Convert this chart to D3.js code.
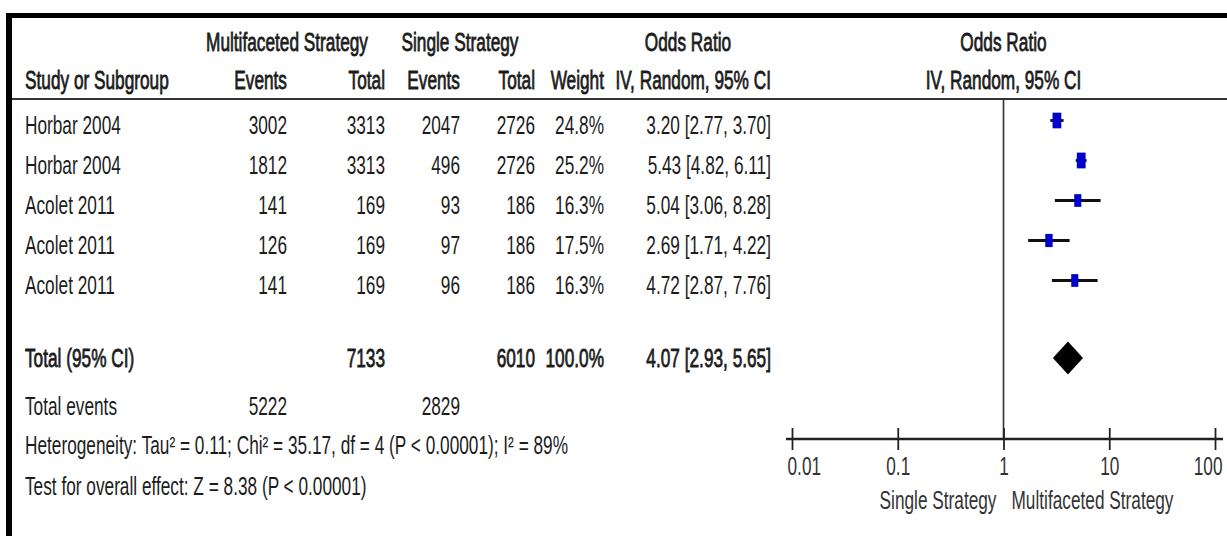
<!DOCTYPE html>
<html>
<head>
<meta charset="utf-8">
<script src="https://cdn.jsdelivr.net/npm/d3@7"></script>
<style>
  html, body { margin: 0; padding: 0; background: #fff; }
  svg { display: block; }
</style>
</head>
<body>
<svg id="chart" width="1227" height="536"></svg>
<script>
// ---------- data ----------
const studies = ["Horbar 2004", "Horbar 2004", "Acolet 2011", "Acolet 2011", "Acolet 2011"];
const multiEvents = [3002, 1812, 141, 126, 141];
const multiTotal = [3313, 3313, 169, 169, 169];
const singleEvents = [2047, 496, 93, 97, 96];
const singleTotal = [2726, 2726, 186, 186, 186];
const weights = [24.8, 25.2, 16.3, 17.5, 16.3];
const orValues = [3.20, 5.43, 5.04, 2.69, 4.72];
const ciLower = [2.77, 4.82, 3.06, 1.71, 2.87];
const ciUpper = [3.70, 6.11, 8.28, 4.22, 7.76];

const totalMultiN = 7133, totalSingleN = 6010, totalWeight = 100.0;
const totalOR = 4.07, totalLower = 2.93, totalUpper = 5.65;
const totalMultiEvents = 5222, totalSingleEvents = 2829;
const heterogeneityText = "Heterogeneity: Tau\u00B2 = 0.11; Chi\u00B2 = 35.17, df = 4 (P < 0.00001); I\u00B2 = 89%";
const overallText = "Test for overall effect: Z = 8.38 (P < 0.00001)";

const axisTicks = [0.01, 0.1, 1, 10, 100];
const axisTickLabels = ["0.01", "0.1", "1", "10", "100"];
const favoursLeft = "Single Strategy";
const favoursRight = "Multifaceted Strategy";

// ---------- layout ----------
const sx = 0.69;            // horizontal condensation of the text
const FS = 25;
const FONT = "'Liberation Sans', Arial, sans-serif";
const INK = "#1c1c1c";
const col = { study: 25, mEv: 287, mTot: 385, sEv: 460, sTot: 535, w: 604, or: 771 };

const svg = d3.select("#chart");

function addText(x, y, s, anchor = "start", bold = false, parent = svg) {
  return parent.append("text")
    .attr("transform", `translate(${x},${y}) scale(${sx},1)`)
    .attr("text-anchor", anchor)
    .attr("font-family", FONT)
    .attr("font-size", FS)
    .attr("fill", INK)
    .attr("stroke", bold ? INK : "none")
    .attr("stroke-width", bold ? 0.8 : 0)
    .text(s);
}

const x = d3.scaleLog().domain([0.01, 100]).range([792, 1215]);
const rowY = d3.scaleLinear().domain([0, studies.length - 1]).range([120.5, 280.5]);
const textOff = 13.5;
const boxH = d3.scaleSqrt().domain([0, 25]).range([0, 15.7]);
const fmt2 = d3.format(".2f");
const fmtW = d3.format(".1f");

// frame
svg.append("rect").attr("x", 6).attr("y", 13).attr("width", 1221).attr("height", 5).attr("fill", "#000");
svg.append("rect").attr("x", 6).attr("y", 13).attr("width", 6).attr("height", 523).attr("fill", "#000");
svg.append("line").attr("x1", 12).attr("x2", 1227).attr("y1", 99).attr("y2", 99)
  .attr("stroke", "#333").attr("stroke-width", 2);

// header
const h1 = 50.5, h2 = 89;
addText(287, h1, "Multifaceted Strategy", "middle", true);
addText(460, h1, "Single Strategy", "middle", true);
addText(688, h1, "Odds Ratio", "middle", true);
addText(x(1), h1, "Odds Ratio", "middle", true);
addText(col.study, h2, "Study or Subgroup", "start", true);
addText(col.mEv, h2, "Events", "end", true);
addText(col.mTot, h2, "Total", "end", true);
addText(col.sEv, h2, "Events", "end", true);
addText(col.sTot, h2, "Total", "end", true);
addText(col.w, h2, "Weight", "end", true);
addText(col.or, h2, "IV, Random, 95% CI", "end", true);
addText(x(1), h2, "IV, Random, 95% CI", "middle", true);

// study rows
studies.forEach((s, i) => {
  const yb = rowY(i) + textOff;
  addText(col.study, yb, s);
  addText(col.mEv, yb, multiEvents[i], "end");
  addText(col.mTot, yb, multiTotal[i], "end");
  addText(col.sEv, yb, singleEvents[i], "end");
  addText(col.sTot, yb, singleTotal[i], "end");
  addText(col.w, yb, fmtW(weights[i]) + "%", "end");
  addText(col.or, yb, `${fmt2(orValues[i])} [${fmt2(ciLower[i])}, ${fmt2(ciUpper[i])}]`, "end");
});

// totals
const totY = 358;
addText(col.study, totY + 9, "Total (95% CI)", "start", true);
addText(col.mTot, totY + 9, totalMultiN, "end", true);
addText(col.sTot, totY + 9, totalSingleN, "end", true);
addText(col.w, totY + 9, fmtW(totalWeight) + "%", "end", true);
addText(col.or, totY + 9, `${fmt2(totalOR)} [${fmt2(totalLower)}, ${fmt2(totalUpper)}]`, "end", true);

addText(col.study, 415, "Total events");
addText(col.mEv, 415, totalMultiEvents, "end");
addText(col.sEv, 415, totalSingleEvents, "end");
addText(col.study, 454, heterogeneityText);
addText(col.study, 495, overallText);

// plot: reference line
const axisY = 439;
svg.append("line").attr("x1", x(1)).attr("x2", x(1)).attr("y1", 100).attr("y2", axisY)
  .attr("stroke", "#333").attr("stroke-width", 1.6);

// CIs and boxes
const plot = svg.append("g");
plot.selectAll("line.ci").data(orValues).join("line").attr("class", "ci")
  .attr("x1", (d, i) => x(ciLower[i])).attr("x2", (d, i) => x(ciUpper[i]))
  .attr("y1", (d, i) => rowY(i)).attr("y2", (d, i) => rowY(i))
  .attr("stroke", "#111").attr("stroke-width", 2.8);
plot.selectAll("rect.box").data(orValues).join("rect").attr("class", "box")
  .attr("x", (d, i) => x(d) - boxH(weights[i]) * 0.28)
  .attr("y", (d, i) => rowY(i) - boxH(weights[i]) / 2)
  .attr("width", (d, i) => boxH(weights[i]) * 0.56)
  .attr("height", (d, i) => boxH(weights[i]))
  .attr("fill", "#0000cc");

// diamond
const dh = 16.5;
plot.append("path")
  .attr("d", `M${x(totalLower)},${totY}L${x(totalOR)},${totY - dh}L${x(totalUpper)},${totY}L${x(totalOR)},${totY + dh}Z`)
  .attr("fill", "#000");

// axis
const axisG = svg.append("g").attr("transform", `translate(0,${axisY})`)
  .call(d3.axisBottom(x).tickValues(axisTicks).tickFormat((d, i) => axisTickLabels[i]).tickSizeInner(11).tickSizeOuter(0));
axisG.select(".domain").remove();
axisG.append("line").attr("x1", x.range()[0] - 6).attr("x2", x.range()[1] + 8)
  .attr("stroke", "#222").attr("stroke-width", 2.5);
axisG.selectAll(".tick line").attr("y1", -11).attr("y2", 11).attr("stroke", "#222").attr("stroke-width", 1.8);
const nT = axisTicks.length;
axisG.selectAll(".tick text").each(function(d, i) {
  const t = d3.select(this);
  let dx = 0, anchor = "middle";
  if (i === 0) { dx = (x.range()[0] - 5) - x(d); anchor = "start"; }
  if (i === nT - 1) { dx = (x.range()[1] + 7) - x(d); anchor = "end"; }
  t.attr("x", null).attr("y", null).attr("dy", null)
    .attr("transform", `translate(${dx},36) scale(${sx},1)`)
    .attr("text-anchor", anchor)
    .attr("font-family", FONT).attr("font-size", FS).attr("fill", "#333");
});
addText(x(1) - 7, 509, favoursLeft, "end").attr("fill", "#333");
addText(x(1) + 8, 509, favoursRight, "start").attr("fill", "#333");
</script>
</body>
</html>
